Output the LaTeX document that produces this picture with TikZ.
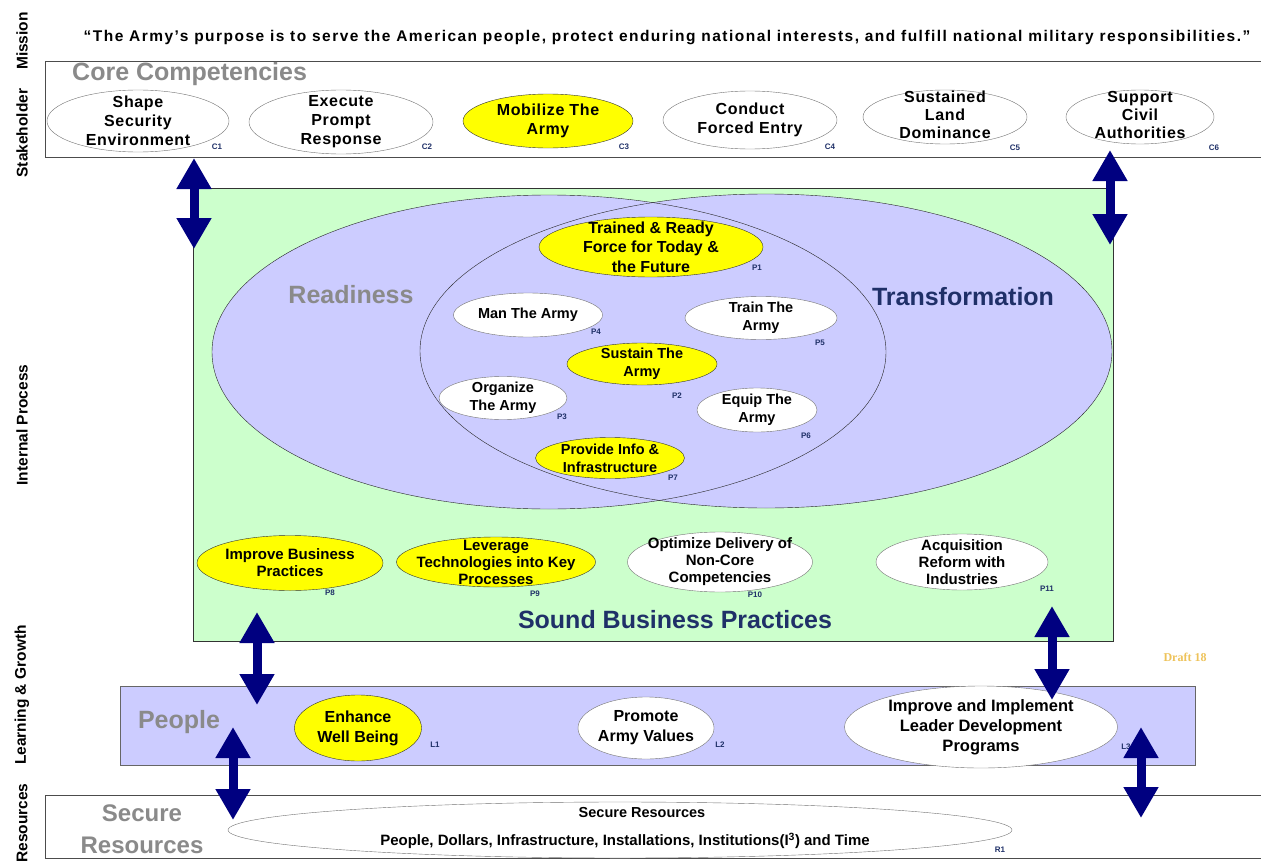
\documentclass[tikz,border=0pt]{standalone}
\usepackage{fontspec}
\setmainfont{Liberation Sans}
\newfontfamily\draftfont{Liberation Serif}
\usetikzlibrary{shapes.geometric,arrows.meta}

\definecolor{bsgreen}{HTML}{CCFFCC}
\definecolor{bslav}{HTML}{CCCCFF}
\definecolor{bsyellow}{HTML}{FFFF00}
\definecolor{bsnavy}{HTML}{000080}
\definecolor{bsgray}{HTML}{8A8A8A}
\definecolor{bsblue}{HTML}{1F3068}
\definecolor{bsgold}{HTML}{EEC35A}

\tikzset{
  goal/.style={ellipse, draw=black!55, fill=white, inner sep=0pt},
  keygoal/.style={goal, fill=bsyellow, draw=black!80},
  wide/.style={font=\bfseries\fontsize{16}{19}\selectfont\addfontfeature{LetterSpace=4}, align=center},
  slim/.style={font=\bfseries\fontsize{14.5}{18}\selectfont, align=center},
  small/.style={font=\bfseries\fontsize{15}{17}\selectfont, align=center},
  tag/.style={font=\bfseries\fontsize{8}{8}\selectfont, text=bsblue},
  heading/.style={font=\bfseries\fontsize{25}{25}\selectfont},
  side/.style={rotate=90, font=\bfseries\fontsize{15.5}{15.5}\selectfont},
  link/.style={bsnavy, line width=9pt, {Triangle[width=33pt,length=31pt]}-{Triangle[width=33pt,length=31pt]}},
}

\begin{document}
\begin{tikzpicture}[x=1pt,y=-1pt]
\clip (0,0) rectangle (1261,867);
\fill[white] (0,0) rectangle (1261,867);

% perspectives down the left side
\node[side] (lmission) at (22,41) {Mission};
\node[side] (lstake) at (22,133) {Stakeholder};
\node[side] (linternal) at (22,425) {Internal Process};
\node[side] (llearn) at (22,695) {Learning \& Growth};
\node[side] (lres) at (22,823) {Resources};

\node[font=\bfseries\fontsize{15.5}{15.5}\selectfont\addfontfeature{LetterSpace=9.5}] (mission) at (667,38)
  {“The Army’s purpose is to serve the American people, protect enduring national interests, and fulfill national military responsibilities.”};

% stakeholder band
\node[draw=black!70, fill=white, minimum width=1230pt, minimum height=96pt, anchor=north west, inner sep=0pt] (stake) at (45,61) {};
\node[heading, text=bsgray, anchor=west, inner sep=0pt] (core) at (72,74) {Core Competencies};

\node[goal, minimum width=182pt, minimum height=62pt] (c1) at (138,121) {};
\node[wide] (c1t) at (c1) {Shape\\Security\\Environment};
\node[goal, minimum width=184pt, minimum height=64pt] (c2) at (341,122) {};
\node[wide] (c2t) at (c2) {Execute\\Prompt\\Response};
\node[keygoal, minimum width=170pt, minimum height=54pt] (c3) at (548,121) {};
\node[wide] (c3t) at (c3) {Mobilize The\\Army};
\node[goal, minimum width=174pt, minimum height=58pt] (c4) at (750,120) {};
\node[wide] (c4t) at (750,120) {Conduct\\Forced Entry};
\node[goal, minimum width=164pt, minimum height=54pt] (c5) at (945,117) {};
\node[wide, font=\bfseries\fontsize{16}{18}\selectfont\addfontfeature{LetterSpace=4}] (c5t) at (945,115) {Sustained\\Land\\Dominance};
\node[goal, minimum width=148pt, minimum height=54pt] (c6) at (1140,117) {};
\node[wide, font=\bfseries\fontsize{16}{18}\selectfont\addfontfeature{LetterSpace=4}] (c6t) at (1140,115) {Support\\Civil\\Authorities};

\node[tag] (c1l) at (217,147) {C1};
\node[tag] (c2l) at (427,147) {C2};
\node[tag] (c3l) at (624,147) {C3};
\node[tag] (c4l) at (830,147) {C4};
\node[tag] (c5l) at (1015,148) {C5};
\node[tag] (c6l) at (1214,148) {C6};

% internal process
\node[draw=black!80, fill=bsgreen, minimum width=920pt, minimum height=453pt, anchor=north west, inner sep=0pt] (green) at (193,188) {};
\fill[bslav] (549,352) ellipse [x radius=337, y radius=157];
\fill[bslav] (766,351) ellipse [x radius=346, y radius=157];
\draw[black!85] (549,352) ellipse [x radius=337, y radius=157];
\draw[black!85] (766,351) ellipse [x radius=346, y radius=157];
\node[heading, text=bsgray] (ready) at (351,295) {Readiness};
\node[heading, text=bsblue] (trans) at (963,297) {Transformation};

\node[keygoal, minimum width=224pt, minimum height=60pt] (p1) at (651,247) {};
\node[slim, font=\bfseries\fontsize{16}{19.5}\selectfont] (p1t) at (p1) {Trained \& Ready\\Force for Today \&\\the Future};
\node[goal, minimum width=149pt, minimum height=44pt] (p4) at (528,315) {};
\node[slim] (p4t) at (p4) {Man The Army};
\node[goal, minimum width=152pt, minimum height=43pt] (p5) at (761,318) {};
\node[slim] (p5t) at (p5) {Train The\\Army};
\node[keygoal, minimum width=150pt, minimum height=42pt] (p2) at (642,364) {};
\node[slim] (p2t) at (p2) {Sustain The\\Army};
\node[goal, minimum width=128pt, minimum height=43pt] (p3) at (503,398) {};
\node[slim] (p3t) at (p3) {Organize\\The Army};
\node[goal, minimum width=120pt, minimum height=44pt] (p6) at (757,410) {};
\node[slim] (p6t) at (p6) {Equip The\\Army};
\node[keygoal, minimum width=149pt, minimum height=41pt] (p7) at (610,458) {};
\node[slim] (p7t) at (p7) {Provide Info \&\\Infrastructure};

\node[tag] (p1l) at (757,268) {P1};
\node[tag] (p4l) at (596,332) {P4};
\node[tag] (p5l) at (820,343) {P5};
\node[tag] (p2l) at (677,396) {P2};
\node[tag] (p3l) at (562,417) {P3};
\node[tag] (p6l) at (806,436) {P6};
\node[tag] (p7l) at (673,478) {P7};

\node[keygoal, minimum width=186pt, minimum height=55pt] (p8) at (290,563) {};
\node[small] (p8t) at (p8) {Improve Business\\Practices};
\node[keygoal, minimum width=199pt, minimum height=50pt] (p9) at (496,562) {};
\node[small] (p9t) at (p9) {Leverage\\Technologies into Key\\Processes};
\node[goal, minimum width=185pt, minimum height=60pt] (p10) at (720,562) {};
\node[small] (p10t) at (p10) {Optimize Delivery of\\Non-Core\\Competencies};
\node[goal, minimum width=172pt, minimum height=56pt] (p11) at (962,562) {};
\node[small] (p11t) at (p11) {Acquisition\\Reform with\\Industries};

\node[tag] (p8l) at (330,593) {P8};
\node[tag] (p9l) at (535,594) {P9};
\node[tag] (p10l) at (755,595) {P10};
\node[tag] (p11l) at (1047,589) {P11};

\node[heading, text=bsblue] (sound) at (675,620) {Sound Business Practices};

\node[font=\draftfont\bfseries\fontsize{12}{12}\selectfont, text=bsgold] (draft) at (1185,657) {Draft 18};

% learning and growth
\node[draw=black!60, fill=bslav, minimum width=1075pt, minimum height=79pt, anchor=north west, inner sep=0pt] (people) at (120,686) {};
\node[heading, text=bsgray] (peoplet) at (179,722) {People};

\node[keygoal, minimum width=127pt, minimum height=66pt] (l1) at (358,728) {};
\node[slim, font=\bfseries\fontsize{16}{20}\selectfont] (l1t) at (l1) {Enhance\\Well Being};
\node[goal, minimum width=136pt, minimum height=62pt] (l2) at (646,728) {};
\node[slim, font=\bfseries\fontsize{16}{20}\selectfont] (l2t) at (l2) {Promote\\Army Values};
\node[goal, minimum width=273pt, minimum height=82pt] (l3) at (981,727) {};
\node[slim, font=\bfseries\fontsize{16.5}{20}\selectfont] (l3t) at (l3) {Improve and Implement\\Leader Development\\Programs};

\node[tag] (l1l) at (435,745) {L1};
\node[tag] (l2l) at (720,745) {L2};
\node[tag] (l3l) at (1126,747) {L3};

% resources
\node[draw=black!70, fill=white, minimum width=1230pt, minimum height=63pt, anchor=north west, inner sep=0pt] (res) at (45,795) {};
\node[heading, text=bsgray, align=center, font=\bfseries\fontsize{24}{32}\selectfont] (rest) at (142,829) {Secure\\Resources};
\node[goal, minimum width=784pt, minimum height=56pt] (r1) at (620,830) {};
\node[slim] (r1a) at (642,812) {Secure Resources};
\node[slim, font=\bfseries\fontsize{15}{15}\selectfont] (r1b) at (625,841) {People, Dollars, Infrastructure, Installations, Institutions(I\textsuperscript{3}) and Time};
\node[tag] (r1l) at (1000,850) {R1};

% links between the layers
\coordinate (a1) at (194,158);
\coordinate (b1) at (194,249);
\coordinate (a2) at (1110,150);
\coordinate (b2) at (1110,245);
\coordinate (a3) at (257,612);
\coordinate (b3) at (257,705);
\coordinate (a4) at (1052,606);
\coordinate (b4) at (1052,700);
\coordinate (a5) at (233,727);
\coordinate (b5) at (233,820);
\coordinate (a6) at (1141,727);
\coordinate (b6) at (1141,818);
\foreach \i in {1,...,6}
  \draw[link] (a\i) -- (b\i);
\end{tikzpicture}
\end{document}
